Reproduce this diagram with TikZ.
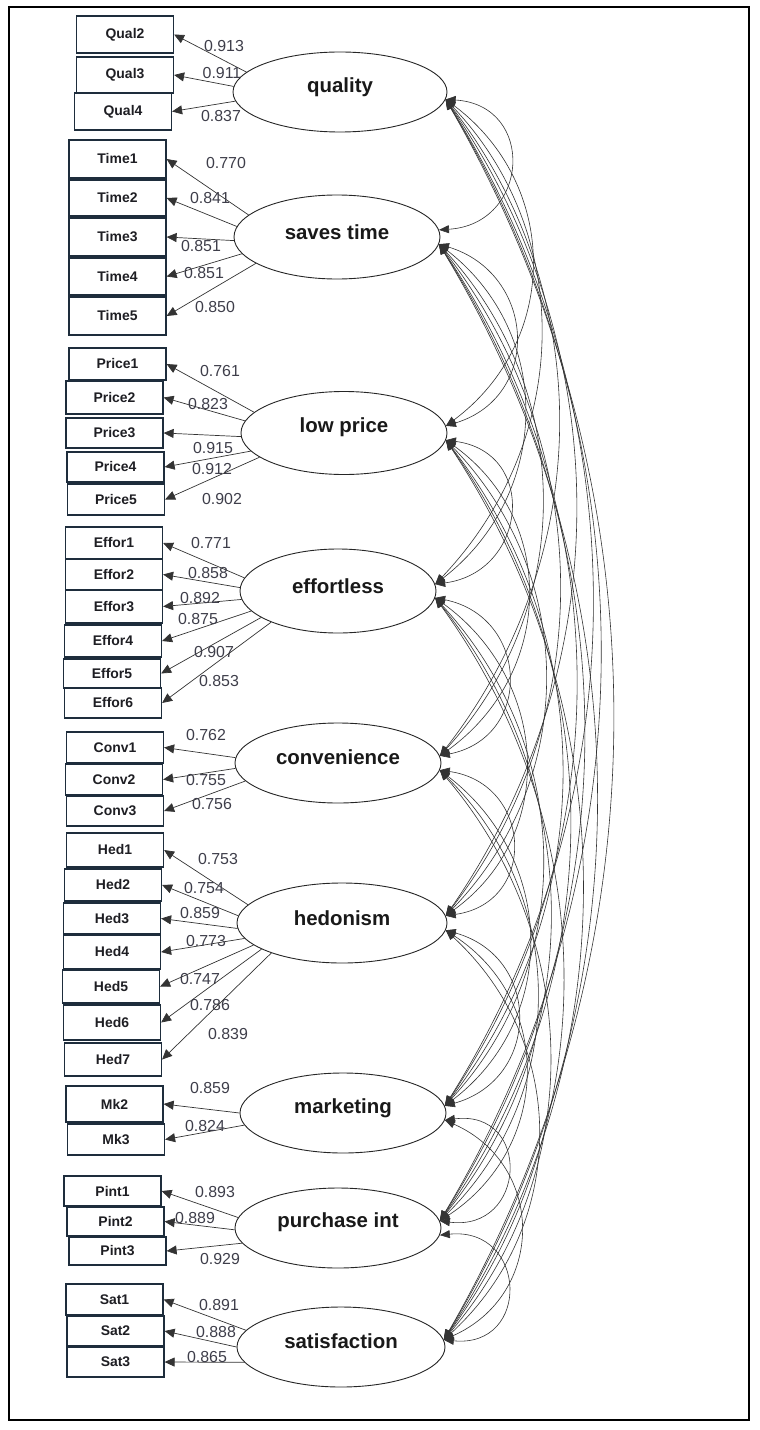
\documentclass[tikz,border=0pt]{standalone}
\usepackage{fontspec}
\setmainfont{Liberation Sans}
\usetikzlibrary{arrows.meta,shapes.geometric}
\definecolor{labc}{RGB}{62,62,74}
\definecolor{boxc}{RGB}{30,45,60}
\definecolor{boxt}{RGB}{30,30,35}
\newcommand\obsbox[5]{\node[obs, minimum height=#4bp] (#1) at (#2,#3) {#5};}
\newcommand\ld[6]{\draw[load] (#1.#2) -- (#3.east); \node[lab] (v#3) at (#5,#6) {#4};}
\newcommand\latent[7]{\node[lat, minimum width=#4bp, minimum height=#5bp] (#1) at (#2,#3) {};
  \node[lattext] (t#1) at (#2,#3-#7) {#6};}
\begin{document}
\begin{tikzpicture}[x=1bp,y=-1bp,
  lat/.style={ellipse, draw=black!85, line width=0.9bp, inner sep=0pt, fill=white},
  lattext/.style={font=\bfseries\fontsize{20.5}{20.5}\selectfont, text=black!90, inner sep=0pt},
  obs/.style={rectangle, draw=boxc, line width=1.2bp, minimum width=97bp, fill=white, inner sep=0pt,
    font=\bfseries\fontsize{14}{14}\selectfont, text=boxt},
  load/.style={-{Triangle[length=10bp,width=9bp]}, line width=0.7bp, draw=black!80},
  cov/.style={{Triangle[length=10bp,width=8bp]}-{Triangle[length=10bp,width=8bp]}, line width=0.6bp, draw=black!80},
  lab/.style={font=\fontsize{16}{16}\selectfont, text=labc, inner sep=0pt}]
\useasboundingbox (0,0) rectangle (759,1430);
\draw[line width=1.4bp] (9,7) rectangle (749,1420);

% latent variables
\latent{L1}{340}{92}{214}{80}{quality}{5}
\latent{L2}{337}{237}{206}{84}{saves time}{5}
\latent{L3}{344}{433}{206}{83}{low price}{6}
\latent{L4}{338}{591}{196}{84}{effortless}{5}
\latent{L5}{338}{763}{206}{80}{convenience}{6}
\latent{L6}{342}{923}{210}{80}{hedonism}{5}
\latent{L7}{343}{1113}{206}{80}{marketing}{5}
\latent{L8}{338}{1228}{206}{80}{purchase int}{6}
\latent{L9}{341}{1347}{208}{80}{satisfaction}{6}

% covariances (circular-like arcs)
\foreach \i in {1,...,8}{
  \pgfmathtruncatemacro\js{\i+1}
  \foreach \j in {\js,...,9}{
    \pgfmathsetmacro\yi{{92,237,433,591,763,923,1113,1228,1347}[\i-1]}
    \pgfmathsetmacro\yj{{92,237,433,591,763,923,1113,1228,1347}[\j-1]}
    \pgfmathsetmacro\dd{\yj-\yi}
    \pgfmathsetmacro\hh{55+0.09*\dd}
    \pgfmathsetmacro\al{2*atan(2*\hh/\dd)}
    \pgfmathsetmacro\kk{1.3333*(\hh*(\hh/\dd)+\dd/4)}
    \pgfmathsetmacro\cx{\kk*sin(\al)}
    \pgfmathsetmacro\cy{\kk*cos(\al)}
    \draw[cov] (L\i.-4) .. controls +(\cx,\cy) and +(\cx,-\cy) .. (L\j.4);
  }
}

% observed boxes
\obsbox{Qual2}{125}{34.5}{37}{Qual2}
\obsbox{Qual3}{125}{75}{36}{Qual3}
\obsbox{Qual4}{123}{111.5}{37}{Qual4}
\obsbox{Time1}{117.5}{159}{38}{Time1}
\obsbox{Time2}{117.5}{198}{36}{Time2}
\obsbox{Time3}{117.5}{237}{38}{Time3}
\obsbox{Time4}{117.5}{276.5}{37}{Time4}
\obsbox{Time5}{117.5}{316}{38}{Time5}
\obsbox{Price1}{117.5}{364}{32}{Price1}
\obsbox{Price2}{114.5}{397.5}{33}{Price2}
\obsbox{Price3}{114.5}{433}{30}{Price3}
\obsbox{Price4}{115.5}{467}{30}{Price4}
\obsbox{Price5}{116}{499.5}{31}{Price5}
\obsbox{Effor1}{114}{543}{32}{Effor1}
\obsbox{Effor2}{114}{574.5}{31}{Effor2}
\obsbox{Effor3}{114}{606.5}{33}{Effor3}
\obsbox{Effor4}{113}{641}{32}{Effor4}
\obsbox{Effor5}{112}{673.5}{29}{Effor5}
\obsbox{Effor6}{113}{703}{30}{Effor6}
\obsbox{Conv1}{115}{747.5}{31}{Conv1}
\obsbox{Conv2}{114}{779.5}{31}{Conv2}
\obsbox{Conv3}{115}{811}{30}{Conv3}
\obsbox{Hed1}{115}{850}{34}{Hed1}
\obsbox{Hed2}{113}{885}{32}{Hed2}
\obsbox{Hed3}{112}{918.5}{31}{Hed3}
\obsbox{Hed4}{112}{952}{34}{Hed4}
\obsbox{Hed5}{111}{986.5}{33}{Hed5}
\obsbox{Hed6}{112}{1022.5}{35}{Hed6}
\obsbox{Hed7}{113}{1059.5}{33}{Hed7}
\obsbox{Mk2}{114.5}{1104}{36}{Mk2}
\obsbox{Mk3}{116}{1139.5}{31}{Mk3}
\obsbox{Pint1}{112.5}{1191}{30}{Pint1}
\obsbox{Pint2}{115.5}{1221.5}{29}{Pint2}
\obsbox{Pint3}{117.5}{1251}{28}{Pint3}
\obsbox{Sat1}{114.5}{1299.5}{31}{Sat1}
\obsbox{Sat2}{115.5}{1331}{30}{Sat2}
\obsbox{Sat3}{115.5}{1362}{30}{Sat3}

% loadings
\ld{L1}{168}{Qual2}{0.913}{224}{46}
\ld{L1}{177}{Qual3}{0.911}{222}{73}
\ld{L1}{185}{Qual4}{0.837}{221}{116}
\ld{L2}{166}{Time1}{0.770}{226}{163}
\ld{L2}{174}{Time2}{0.841}{210}{198}
\ld{L2}{182}{Time3}{0.851}{201}{246}
\ld{L2}{190}{Time4}{0.851}{204}{273}
\ld{L2}{198}{Time5}{0.850}{215}{307}
\ld{L3}{167}{Price1}{0.761}{220}{371}
\ld{L3}{173}{Price2}{0.823}{208}{404}
\ld{L3}{182}{Price3}{0.915}{213}{448}
\ld{L3}{191}{Price4}{0.912}{212}{469}
\ld{L3}{196}{Price5}{0.902}{222}{499}
\ld{L4}{172}{Effor1}{0.771}{211}{543}
\ld{L4}{178}{Effor2}{0.858}{208}{573}
\ld{L4}{185}{Effor3}{0.892}{200}{598}
\ld{L4}{193}{Effor4}{0.875}{198}{619}
\ld{L4}{199}{Effor5}{0.907}{214}{652}
\ld{L4}{205}{Effor6}{0.853}{219}{681}
\ld{L5}{177}{Conv1}{0.762}{206}{735}
\ld{L5}{183}{Conv2}{0.755}{206}{780}
\ld{L5}{191}{Conv3}{0.756}{212}{804}
\ld{L6}{169}{Hed1}{0.753}{218}{859}
\ld{L6}{176}{Hed2}{0.754}{204}{888}
\ld{L6}{183}{Hed3}{0.859}{200}{913}
\ld{L6}{189}{Hed4}{0.773}{206}{941}
\ld{L6}{194}{Hed5}{0.747}{200}{979}
\ld{L6}{198}{Hed6}{0.786}{210}{1005}
\ld{L6}{203}{Hed7}{0.839}{228}{1034}
\ld{L7}{180}{Mk2}{0.859}{210}{1088}
\ld{L7}{187}{Mk3}{0.824}{205}{1126}
\ld{L8}{174}{Pint1}{0.893}{215}{1192}
\ld{L8}{181}{Pint2}{0.889}{195}{1218}
\ld{L8}{189}{Pint3}{0.929}{220}{1259}
\ld{L9}{170}{Sat1}{0.891}{219}{1305}
\ld{L9}{180}{Sat2}{0.888}{216}{1332}
\ld{L9}{189}{Sat3}{0.865}{207}{1357}
\end{tikzpicture}
\end{document}
